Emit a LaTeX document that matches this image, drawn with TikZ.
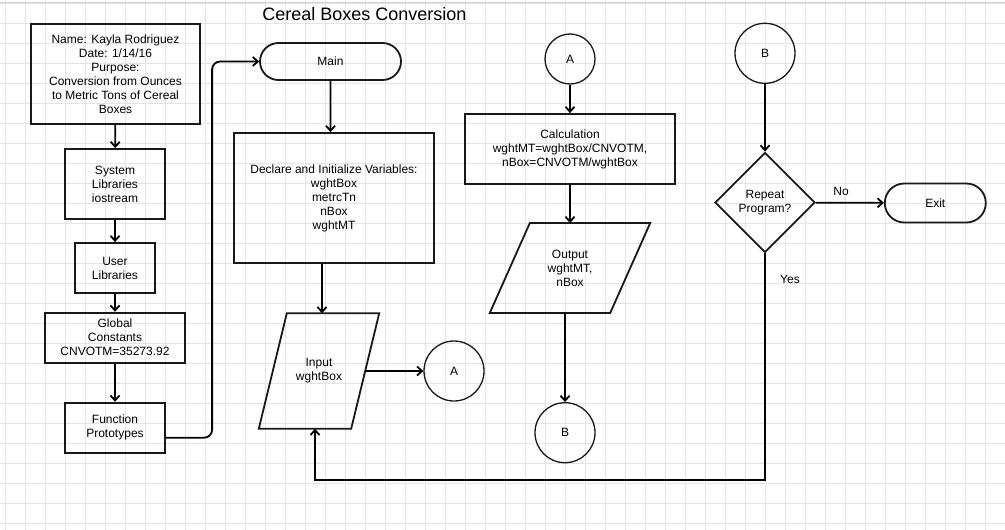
\documentclass[tikz,border=0pt]{standalone}
\usepackage{fontspec}
\setmainfont{Liberation Sans}
\usetikzlibrary{shapes.geometric, shapes.misc, arrows.meta, positioning}
\definecolor{gridcolor}{RGB}{226, 226, 242}
\definecolor{linecolor}{RGB}{25, 25, 25}

\begin{document}
\begin{tikzpicture}[
    x=1pt, y=-1pt,
    every node/.style={font=\fontsize{12}{14}\selectfont, text=black},
    gridline/.style={draw=gridcolor, line width=0.6pt},
    process/.style={draw=linecolor, line width=1.8pt, rectangle, inner sep=0pt, align=center},
    terminal/.style={draw=linecolor, line width=1.8pt, rounded rectangle, inner sep=0pt, align=center},
    io/.style={rectangle, inner sep=0pt, align=center},
    iobox/.style={draw=linecolor, line width=1.8pt, line join=miter},
    decision/.style={draw=linecolor, line width=1.8pt, diamond, inner sep=0pt, align=center},
    connector/.style={draw=linecolor, line width=1.3pt, circle, inner sep=0pt, minimum size=#1},
    arrow/.style={-{Straight Barb[length=5pt, width=9pt]}, line width=1.8pt, draw=black}
]
\useasboundingbox (0,0) rectangle (1005,530);

% Background grid
\fill[white] (0,0) rectangle (1005,530);
\foreach \gx in {5.7,25.7,...,1005} \draw[gridline] (\gx,0) -- (\gx,530);
\foreach \gy in {3.3,23.3,...,530} \draw[gridline] (0,\gy) -- (1005,\gy);
\draw[draw=gray!35, line width=1pt] (0,2.5) -- (1005,2.5);

% Title
\node (title) at (364.5, 14) {\fontsize{18}{21}\selectfont Cereal Boxes Conversion};

% Header and library boxes
\node[process, minimum width=169pt, minimum height=100pt] (header) at (115.5, 74) {Name: Kayla Rodriguez\\ Date: 1/14/16\\ Purpose:\\ Conversion from Ounces\\ to Metric Tons of Cereal\\ Boxes};
\node[process, minimum width=100pt, minimum height=70pt] (syslib) at (115, 184) {System\\ Libraries\\ iostream};
\node[process, minimum width=80pt, minimum height=50pt] (userlib) at (115, 268) {User\\ Libraries};
\node[process, minimum width=140pt, minimum height=50pt] (globals) at (115, 337.7) {Global\\ Constants\\ CNVOTM=35273.92};
\node[process, minimum width=100pt, minimum height=50pt] (protos) at (115, 427.7) {Function\\ Prototypes};

% Main program
\node[terminal, minimum width=141pt, minimum height=37pt] (main) at (330.5, 61.5) {Main};
\node[process, minimum width=200pt, minimum height=130pt] (declare) at (334, 198) {Declare and Initialize Variables:\\ wghtBox\\ metrcTn\\ nBox\\ wghtMT};
\node[io, minimum width=120pt, minimum height=115pt] (input) at (319, 371) {Input\\ wghtBox};
\draw[iobox] ([xshift=28pt]input.north west) -- (input.north east) -- ([xshift=-28pt]input.south east) -- (input.south west) -- cycle;
\node[connector=60pt] (aout) at (454, 371) {A};

% Calculation and output
\node[connector=50pt] (ain) at (570, 59) {A};
\node[process, minimum width=210pt, minimum height=70pt] (calc) at (570, 149) {Calculation\\ wghtMT=wghtBox/CNVOTM,\\ nBox=CNVOTM/wghtBox};
\node[io, minimum width=160pt, minimum height=89.5pt] (output) at (570, 268) {Output\\ wghtMT,\\ nBox};
\draw[iobox] ([xshift=40pt]output.north west) -- (output.north east) -- ([xshift=-40pt]output.south east) -- (output.south west) -- cycle;
\node[connector=60pt] (bout) at (565, 432.7) {B};

% Repeat decision
\node[connector=60pt] (bin) at (765, 53.3) {B};
\node[decision, minimum width=100pt, minimum height=100pt] (repeat) at (765, 202.5) {Repeat\\ Program?};
\node[terminal, minimum width=101pt, minimum height=39pt] (exit) at (935.3, 203) {Exit};
\node (nolabel) at (841, 191) {No};
\node (yeslabel) at (790, 279) {Yes};
\coordinate (loopcorner) at (315, 480);

% Arrows
\draw[arrow] (header) -- (syslib);
\draw[arrow] (syslib) -- (userlib);
\draw[arrow] (userlib) -- (globals);
\draw[arrow] (globals) -- (protos);
\draw[arrow, rounded corners=8pt] ([yshift=-10pt]protos.east) -| ([xshift=-47pt]main.west) -- (main.west);

\draw[arrow] (main) -- (main|-declare.north);
\draw[arrow] ([xshift=3pt]input|-declare.south) -- ([xshift=3pt]input.north);
\draw[arrow] ([xshift=-14pt]input.east) -- (aout);

\draw[arrow] (ain) -- (calc);
\draw[arrow] (calc) -- (output);
\draw[arrow] (bout|-output.south) -- (bout);

\draw[arrow] (bin) -- (repeat);
\draw[arrow] (repeat) -- (exit);
\draw[arrow] (repeat.south) |- (loopcorner) -- (loopcorner|-input.south);

\end{tikzpicture}
\end{document}
